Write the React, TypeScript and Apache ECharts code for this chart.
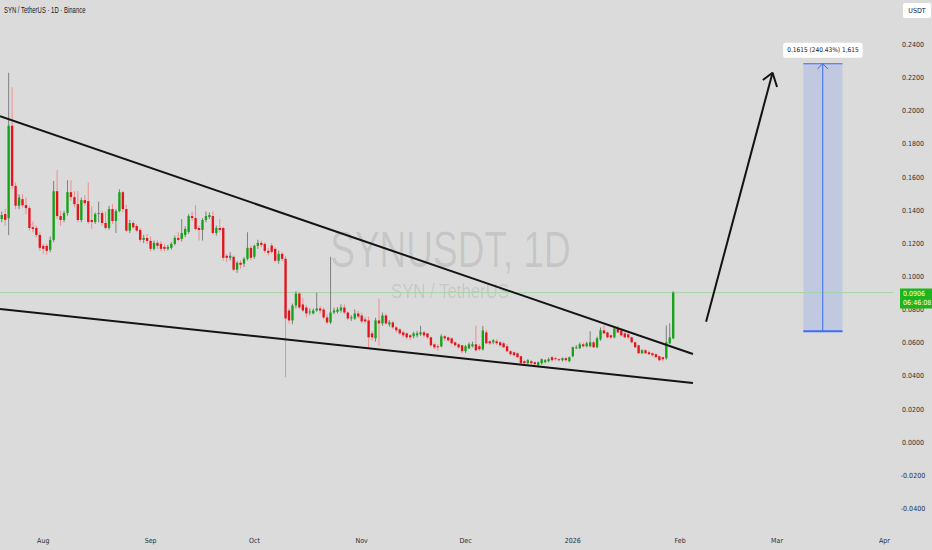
import { useEffect, useRef } from "react";
import * as echarts from "echarts";

const FONT = "'Liberation Sans Narrow', 'DejaVu Sans Condensed', 'Liberation Sans', sans-serif";
const WIDE_FONT = "'Liberation Sans', Arial, sans-serif";

const MONTH_NAMES = ["Jan", "Feb", "Mar", "Apr", "May", "Jun", "Jul", "Aug", "Sep", "Oct", "Nov", "Dec"];
const FIRST_DAY = Date.UTC(2025, 6, 20);
const DAYS_SHOWN = 258;

// one category per calendar day, visible range of the chart
const DATES: string[] = [];
for (let i = 0; i < DAYS_SHOWN; i++) {
  DATES.push(new Date(FIRST_DAY + i * 86400000).toISOString().slice(0, 10));
}

// daily candles, [open, close, low, high]
const JUL = [
  [0.1350, 0.1375, 0.1330, 0.1395], [0.1380, 0.1345, 0.1310, 0.1410], [0.1354, 0.1913, 0.1253, 0.2233],
  [0.1913, 0.1550, 0.1530, 0.2145], [0.1550, 0.1430, 0.1410, 0.1570], [0.1430, 0.1480, 0.1410, 0.1500],
  [0.1470, 0.1434, 0.1420, 0.1500], [0.1434, 0.1416, 0.1380, 0.1480], [0.1416, 0.1296, 0.1280, 0.1430],
  [0.1300, 0.1290, 0.1270, 0.1335], [0.1296, 0.1254, 0.1240, 0.1310], [0.1254, 0.1176, 0.1160, 0.1270],
];
const AUG = [
  [0.1188, 0.1170, 0.1140, 0.1200], [0.1188, 0.1158, 0.1134, 0.1200], [0.1164, 0.1224, 0.1150, 0.1245],
  [0.1224, 0.1518, 0.1210, 0.1580], [0.1518, 0.1368, 0.1350, 0.1644], [0.1368, 0.1344, 0.1310, 0.1400],
  [0.1344, 0.1386, 0.1330, 0.1400], [0.1386, 0.1512, 0.1370, 0.1584], [0.1512, 0.1482, 0.1460, 0.1584],
  [0.1482, 0.1440, 0.1420, 0.1518], [0.1440, 0.1344, 0.1330, 0.1518], [0.1344, 0.1464, 0.1330, 0.1480],
  [0.1464, 0.1446, 0.1430, 0.1494], [0.1458, 0.1332, 0.1320, 0.1570], [0.1344, 0.1332, 0.1290, 0.1426],
  [0.1332, 0.1380, 0.1320, 0.1390], [0.1380, 0.1386, 0.1330, 0.1455], [0.1386, 0.1326, 0.1310, 0.1400],
  [0.1326, 0.1296, 0.1285, 0.1395], [0.1296, 0.1410, 0.1285, 0.1430], [0.1410, 0.1338, 0.1320, 0.1440],
  [0.1338, 0.1398, 0.1266, 0.1410], [0.1398, 0.1512, 0.1390, 0.1530], [0.1512, 0.1410, 0.1390, 0.1518],
  [0.1410, 0.1280, 0.1270, 0.1435], [0.1280, 0.1326, 0.1265, 0.1345], [0.1326, 0.1300, 0.1290, 0.1340],
  [0.1308, 0.1280, 0.1270, 0.1320], [0.1284, 0.1224, 0.1210, 0.1295], [0.1224, 0.1236, 0.1205, 0.1255],
  [0.1236, 0.1218, 0.1200, 0.1260],
];
const SEP = [
  [0.1218, 0.1170, 0.1155, 0.1245], [0.1170, 0.1206, 0.1160, 0.1220], [0.1206, 0.1188, 0.1170, 0.1220],
  [0.1200, 0.1170, 0.1155, 0.1215], [0.1182, 0.1170, 0.1155, 0.1200], [0.1170, 0.1182, 0.1160, 0.1195],
  [0.1176, 0.1200, 0.1165, 0.1210], [0.1200, 0.1236, 0.1190, 0.1250], [0.1236, 0.1224, 0.1215, 0.1270],
  [0.1230, 0.1266, 0.1215, 0.1350], [0.1254, 0.1290, 0.1240, 0.1305], [0.1272, 0.1368, 0.1260, 0.1380],
  [0.1368, 0.1356, 0.1340, 0.1395], [0.1356, 0.1290, 0.1280, 0.1434], [0.1296, 0.1284, 0.1220, 0.1310],
  [0.1284, 0.1344, 0.1220, 0.1355], [0.1344, 0.1368, 0.1330, 0.1395], [0.1362, 0.1374, 0.1350, 0.1390],
  [0.1368, 0.1266, 0.1255, 0.1395], [0.1266, 0.1296, 0.1250, 0.1310], [0.1296, 0.1284, 0.1270, 0.1350],
  [0.1296, 0.1116, 0.1100, 0.1305], [0.1128, 0.1116, 0.1090, 0.1140], [0.1116, 0.1128, 0.1100, 0.1150],
  [0.1122, 0.1044, 0.1035, 0.1130], [0.1044, 0.1086, 0.1025, 0.1095], [0.1086, 0.1074, 0.1050, 0.1100],
  [0.1080, 0.1110, 0.1060, 0.1120], [0.1110, 0.1176, 0.1100, 0.1270], [0.1176, 0.1116, 0.1100, 0.1190],
];
const OCT = [
  [0.1122, 0.1188, 0.1110, 0.1195], [0.1188, 0.1206, 0.1170, 0.1225], [0.1206, 0.1194, 0.1180, 0.1220],
  [0.1200, 0.1158, 0.1145, 0.1210], [0.1158, 0.1146, 0.1130, 0.1175], [0.1190, 0.1152, 0.1140, 0.1205],
  [0.1170, 0.1098, 0.1090, 0.1180], [0.1098, 0.1140, 0.1080, 0.1160], [0.1140, 0.1110, 0.1095, 0.1150],
  [0.1110, 0.0750, 0.0396, 0.1125], [0.0798, 0.0738, 0.0720, 0.0810], [0.0738, 0.0828, 0.0715, 0.0840],
  [0.0828, 0.0900, 0.0810, 0.0915], [0.0900, 0.0816, 0.0805, 0.0910], [0.0834, 0.0798, 0.0790, 0.0875],
  [0.0816, 0.0780, 0.0755, 0.0830], [0.0786, 0.0792, 0.0770, 0.0810], [0.0780, 0.0798, 0.0775, 0.0810],
  [0.0798, 0.0810, 0.0790, 0.0906], [0.0810, 0.0798, 0.0780, 0.0825], [0.0804, 0.0756, 0.0745, 0.0815],
  [0.0756, 0.0726, 0.0715, 0.0775], [0.0726, 0.0786, 0.0715, 0.1122], [0.0786, 0.0798, 0.0775, 0.0815],
  [0.0790, 0.0804, 0.0780, 0.0820], [0.0798, 0.0816, 0.0785, 0.0835], [0.0816, 0.0786, 0.0775, 0.0835],
  [0.0786, 0.0750, 0.0740, 0.0790], [0.0750, 0.0756, 0.0735, 0.0770], [0.0750, 0.0780, 0.0740, 0.0805],
  [0.0780, 0.0762, 0.0750, 0.0795],
];
const NOV = [
  [0.0768, 0.0732, 0.0720, 0.0785], [0.0744, 0.0732, 0.0720, 0.0760], [0.0738, 0.0636, 0.0570, 0.0762],
  [0.0660, 0.0636, 0.0615, 0.0675], [0.0630, 0.0738, 0.0610, 0.0755], [0.0738, 0.0720, 0.0585, 0.0870],
  [0.0720, 0.0768, 0.0705, 0.0785], [0.0768, 0.0720, 0.0710, 0.0780], [0.0714, 0.0726, 0.0700, 0.0740],
  [0.0726, 0.0696, 0.0685, 0.0735], [0.0696, 0.0678, 0.0665, 0.0705], [0.0684, 0.0660, 0.0650, 0.0690],
  [0.0666, 0.0648, 0.0635, 0.0675], [0.0660, 0.0636, 0.0625, 0.0665], [0.0648, 0.0636, 0.0620, 0.0655],
  [0.0642, 0.0660, 0.0630, 0.0670], [0.0648, 0.0660, 0.0635, 0.0675], [0.0654, 0.0666, 0.0645, 0.0705],
  [0.0666, 0.0648, 0.0635, 0.0675], [0.0660, 0.0636, 0.0625, 0.0662], [0.0636, 0.0588, 0.0580, 0.0640],
  [0.0594, 0.0576, 0.0565, 0.0600], [0.0582, 0.0576, 0.0555, 0.0595], [0.0582, 0.0642, 0.0575, 0.0655],
  [0.0642, 0.0630, 0.0615, 0.0650], [0.0636, 0.0618, 0.0610, 0.0640], [0.0630, 0.0600, 0.0595, 0.0635],
  [0.0606, 0.0588, 0.0580, 0.0610], [0.0594, 0.0576, 0.0565, 0.0600], [0.0588, 0.0552, 0.0540, 0.0590],
];
const DEC = [
  [0.0552, 0.0582, 0.0540, 0.0590], [0.0570, 0.0594, 0.0565, 0.0605], [0.0582, 0.0594, 0.0575, 0.0610],
  [0.0594, 0.0558, 0.0550, 0.0708], [0.0582, 0.0564, 0.0555, 0.0595], [0.0564, 0.0678, 0.0555, 0.0705],
  [0.0666, 0.0600, 0.0595, 0.0680], [0.0612, 0.0600, 0.0590, 0.0620], [0.0606, 0.0618, 0.0595, 0.0625],
  [0.0612, 0.0600, 0.0590, 0.0625], [0.0606, 0.0588, 0.0580, 0.0615], [0.0600, 0.0576, 0.0570, 0.0610],
  [0.0582, 0.0552, 0.0545, 0.0595], [0.0552, 0.0534, 0.0525, 0.0560], [0.0546, 0.0528, 0.0520, 0.0550],
  [0.0540, 0.0516, 0.0510, 0.0545], [0.0522, 0.0480, 0.0472, 0.0525], [0.0492, 0.0480, 0.0472, 0.0500],
  [0.0480, 0.0498, 0.0470, 0.0505], [0.0492, 0.0480, 0.0470, 0.0500], [0.0486, 0.0474, 0.0465, 0.0490],
  [0.0468, 0.0486, 0.0462, 0.0490], [0.0480, 0.0504, 0.0470, 0.0510], [0.0486, 0.0498, 0.0480, 0.0505],
  [0.0492, 0.0504, 0.0485, 0.0515], [0.0516, 0.0498, 0.0490, 0.0525], [0.0510, 0.0504, 0.0495, 0.0520],
  [0.0504, 0.0498, 0.0490, 0.0510], [0.0498, 0.0510, 0.0490, 0.0515], [0.0510, 0.0498, 0.0490, 0.0520],
  [0.0492, 0.0516, 0.0485, 0.0520],
];
const JAN = [
  [0.0522, 0.0576, 0.0515, 0.0580], [0.0570, 0.0576, 0.0565, 0.0590], [0.0570, 0.0594, 0.0565, 0.0605],
  [0.0594, 0.0582, 0.0575, 0.0605], [0.0582, 0.0600, 0.0575, 0.0610], [0.0582, 0.0606, 0.0575, 0.0672],
  [0.0606, 0.0576, 0.0570, 0.0615], [0.0576, 0.0630, 0.0570, 0.0640], [0.0624, 0.0678, 0.0615, 0.0695],
  [0.0678, 0.0660, 0.0655, 0.0708], [0.0666, 0.0636, 0.0630, 0.0670], [0.0648, 0.0636, 0.0625, 0.0655],
  [0.0636, 0.0690, 0.0630, 0.0695], [0.0690, 0.0666, 0.0660, 0.0705], [0.0678, 0.0648, 0.0640, 0.0685],
  [0.0660, 0.0636, 0.0630, 0.0665], [0.0654, 0.0636, 0.0625, 0.0660], [0.0636, 0.0606, 0.0600, 0.0640],
  [0.0606, 0.0576, 0.0570, 0.0610], [0.0588, 0.0540, 0.0535, 0.0590], [0.0540, 0.0558, 0.0535, 0.0565],
  [0.0558, 0.0540, 0.0535, 0.0565], [0.0546, 0.0534, 0.0530, 0.0555], [0.0540, 0.0528, 0.0520, 0.0545],
  [0.0534, 0.0516, 0.0510, 0.0540], [0.0522, 0.0498, 0.0490, 0.0525], [0.0516, 0.0504, 0.0490, 0.0520],
  [0.0510, 0.0606, 0.0500, 0.0708], [0.0600, 0.0636, 0.0595, 0.0720], [0.0630, 0.0906, 0.0625, 0.0915],
];
const CANDLES = [...JUL, ...AUG, ...SEP, ...OCT, ...NOV, ...DEC, ...JAN];

const LAST_PRICE = 0.0906;
const COUNTDOWN = "06:46:08";

// drawings on the chart, as [day index, price]
const UPPER_TREND = [[-0.5, 0.1971], [199.7, 0.0535]];
const LOWER_TREND = [[-0.5, 0.0807], [199.7, 0.0361]];
const ARROW_SHAFT = [[203.5, 0.0730], [222.7, 0.2233]];
const ARROW_HEAD = [[219.9, 0.2189], [222.7, 0.2233], [224.0, 0.2147]];

// price range tool
const RANGE_FROM = 231.6;
const RANGE_TO = 242.9;
const RANGE_MID = 237.2;
const RANGE_LOW = 0.0672;
const RANGE_HIGH = 0.2287;
const RANGE_LABEL = "0.1615 (240.43%) 1,615";

const UP = "#15a315";
const DOWN = "#e3141c";
const WICK_UP = "#7f7f7f";
const WICK_DOWN = "#eb8e8e";
const BLUE = "#3d6df5";
const INK = "#2a2e39";

function drawLine(data: number[][], color: string, width: number, z = 4) {
  return {
    type: "line", xAxisIndex: 1, yAxisIndex: 0, data, symbol: "none", silent: true,
    lineStyle: { color, width }, z,
  };
}

export default function App() {
  const ref = useRef<HTMLDivElement>(null);

  useEffect(() => {
    document.body.style.margin = "0";
    if (!ref.current) return;
    const chart = echarts.init(ref.current, null, { renderer: "svg" });

    chart.setOption({
      animation: false,
      backgroundColor: "#dbdbdb",
      grid: [
        { left: 0, right: 39, top: 11.9, bottom: 41 },
        { left: 0, right: 39, top: 0, bottom: 22 },
      ],
      xAxis: [
        {
          type: "category", gridIndex: 1, data: DATES, boundaryGap: true,
          axisLine: { show: false }, axisTick: { show: false }, splitLine: { show: false },
          axisLabel: {
            interval: (_: number, v: string) => v.endsWith("-01"),
            formatter: (v: string) => {
              const m = Number(v.slice(5, 7));
              return m === 1 ? v.slice(0, 4) : MONTH_NAMES[m - 1];
            },
            color: INK, fontSize: 7, fontFamily: FONT, margin: 9,
          },
        },
        { type: "value", gridIndex: 0, min: -0.5, max: DAYS_SHOWN - 0.5, show: false },
      ],
      yAxis: [
        {
          type: "value", gridIndex: 0, position: "right", min: -0.04, max: 0.26, interval: 0.02,
          axisLine: { show: false }, axisTick: { show: false }, splitLine: { show: false },
          axisLabel: {
            formatter: (v: number) => (v > 0.2401 ? "" : v.toFixed(4)),
            color: INK, fontSize: 7, fontFamily: FONT, margin: 20, align: "center",
          },
        },
        { type: "value", gridIndex: 1, show: false },
      ],
      graphic: [
        {
          type: "text", x: 450.5, y: 249, scaleX: 0.74, z: 0, silent: true,
          style: {
            text: "SYNUSDT, 1D", fontSize: 50, fontFamily: WIDE_FONT,
            fill: "rgba(0,0,0,0.1)", textAlign: "center", textVerticalAlign: "middle",
          },
        },
        {
          type: "text", x: 450, y: 292, scaleX: 0.86, z: 0, silent: true,
          style: {
            text: "SYN / TetherUS", fontSize: 19.5, fontFamily: WIDE_FONT,
            fill: "rgba(0,0,0,0.1)", textAlign: "center", textVerticalAlign: "middle",
          },
        },
        {
          type: "text", x: 4, y: 10, scaleX: 0.7, z: 10, silent: true,
          style: {
            text: "SYN / TetherUS · 1D · Binance", fontSize: 8.5, fontFamily: WIDE_FONT,
            fill: "#131722", textAlign: "left", textVerticalAlign: "middle",
          },
        },
        {
          type: "rect", x: 903, y: 3, z: 10, silent: true,
          shape: { width: 28, height: 15, r: 2 }, style: { fill: "#ffffff" },
        },
        {
          type: "text", x: 917, y: 10.5, z: 11, silent: true,
          style: {
            text: "USDT", fontSize: 7, fontFamily: FONT, fill: "#131722",
            textAlign: "center", textVerticalAlign: "middle",
          },
        },
      ],
      series: [
        {
          type: "custom", xAxisIndex: 1, yAxisIndex: 0, silent: true, z: 3,
          data: CANDLES.map((c, i) => [i, ...c]),
          encode: { x: 0, y: [1, 2, 3, 4] },
          renderItem: (_: any, api: any) => {
            const x = api.value(0);
            const o = api.value(1), c = api.value(2), l = api.value(3), h = api.value(4);
            const pO = api.coord([x, o]);
            const pC = api.coord([x, c]);
            const pL = api.coord([x, l]);
            const pH = api.coord([x, h]);
            const w = api.size([1, 0])[0] * 0.68;
            const up = c >= o;
            const top = Math.min(pO[1], pC[1]);
            const hgt = Math.max(Math.abs(pO[1] - pC[1]), 1);
            return {
              type: "group",
              children: [
                {
                  type: "line",
                  shape: { x1: pH[0], y1: pH[1], x2: pL[0], y2: pL[1] },
                  style: { stroke: up ? WICK_UP : WICK_DOWN, lineWidth: 1 },
                },
                {
                  type: "rect",
                  shape: { x: pO[0] - w / 2, y: top, width: w, height: hgt },
                  style: { fill: up ? UP : DOWN },
                },
              ],
            };
          },
        },
        // current price line
        drawLine([[-0.5, LAST_PRICE], [DAYS_SHOWN - 0.5, LAST_PRICE]], "#a6d6a6", 1, 2),
        {
          type: "line", xAxisIndex: 1, yAxisIndex: 0, data: [], silent: true,
          markLine: {
            silent: true, symbol: ["none", "none"],
            lineStyle: { color: "rgba(0,0,0,0)", width: 1, type: "solid" },
            label: {
              show: true, position: "end", distance: 7, offset: [0, 5],
              formatter: `${LAST_PRICE.toFixed(4)}\n${COUNTDOWN}`,
              color: "#ffffff", backgroundColor: "#1db41d", padding: [1, 3],
              fontSize: 7, lineHeight: 9, fontFamily: FONT,
            },
            data: [{ yAxis: LAST_PRICE }],
          },
          markArea: {
            silent: true,
            itemStyle: { color: "rgba(41,98,255,0.15)" },
            label: {
              show: true, position: "top", distance: 6, formatter: RANGE_LABEL,
              color: "#131722", backgroundColor: "#ffffff", borderRadius: 2,
              padding: [4, 4], fontSize: 6.5, fontFamily: FONT,
            },
            data: [[{ coord: [RANGE_FROM, RANGE_LOW] }, { coord: [RANGE_TO, RANGE_HIGH] }]],
          },
        },
        drawLine(UPPER_TREND, "#141414", 2),
        drawLine(LOWER_TREND, "#141414", 2),
        drawLine(ARROW_SHAFT, "#141414", 2),
        drawLine(ARROW_HEAD, "#141414", 2),
        drawLine([[RANGE_FROM, RANGE_HIGH], [RANGE_TO, RANGE_HIGH]], BLUE, 1),
        drawLine([[RANGE_FROM, RANGE_LOW], [RANGE_TO, RANGE_LOW]], BLUE, 2),
        drawLine([[RANGE_MID, RANGE_LOW], [RANGE_MID, RANGE_HIGH]], BLUE, 1),
        drawLine([[RANGE_MID - 1.55, 0.2255], [RANGE_MID, RANGE_HIGH], [RANGE_MID + 1.55, 0.2255]], BLUE, 1),
      ],
    });

    return () => chart.dispose();
  }, []);

  return <div ref={ref} style={{ width: 932, height: 550 }} />;
}
